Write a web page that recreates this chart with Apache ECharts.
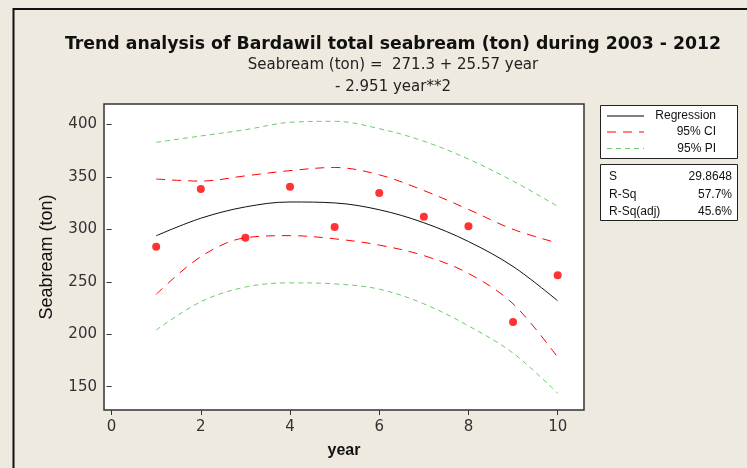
<!DOCTYPE html>
<html>
<head>
<meta charset="utf-8">
<script src="https://cdn.jsdelivr.net/npm/echarts@6/dist/echarts.min.js"></script>
<style>
html,body{margin:0;padding:0;background:#EEEAE0;}
#chart{width:747px;height:468px;}
</style>
</head>
<body>
<div id="chart"></div>
<script>
// ---- data ----
const years = [1, 2, 3, 4, 5, 6, 7, 8, 9, 10];
const seabream = [283.5, 338.5, 292, 340.7, 302.2, 334.6, 312, 303, 211.7, 256.2];
const regression = [293.9, 310.6, 321.4, 326.1, 325.2, 318.7, 306.3, 288.4, 264.6, 231.9];
const ciUpper = [348, 346, 351, 356, 359, 352, 337, 319, 300, 287];
const ciLower = [238, 274, 292, 294, 291, 285, 275, 258, 229, 178];
const piUpper = [383, 389, 395, 402, 403, 396, 384, 367, 346, 322];
const piLower = [204, 231, 245, 249, 248, 243, 229, 208, 182, 143.7];
const xTicks = [0, 2, 4, 6, 8, 10];
const yTicks = [150, 200, 250, 300, 350, 400];
const xRange = [-0.17, 10.59];
const yRange = [127.8, 419.5];
const legendNames = ['Regression', '95% CI', '95% PI'];
const statNames = ['S', 'R-Sq', 'R-Sq(adj)'];
const statValues = ['29.8648', '57.7%', '45.6%'];
const titleText = 'Trend analysis of Bardawil total seabream (ton) during 2003 - 2012';
const subText = 'Seabream (ton) =  271.3 + 25.57 year\n- 2.951 year**2';

const pair = arr => years.map((x, i) => [x, arr[i]]);

const chart = echarts.init(document.getElementById('chart'), null, {renderer: 'canvas'});

const FONT = '"Liberation Sans", Arial, sans-serif';
const WIDE = '"DejaVu Sans", sans-serif';
const RED = '#FF0000';
const GREEN = '#6CCB6C';

const lineStyle = (color, type, width) => ({color: color, type: type, width: width});

const legendRows = [
  {y: 116, color: '#000', dash: null},
  {y: 132, color: RED, dash: [9, 7]},
  {y: 148.5, color: GREEN, dash: [5, 4]}
];

const graphics = [
  {type: 'rect', z: -10, shape: {x: 13.5, y: 9, width: 800, height: 500},
   style: {fill: '#EEEAE0', stroke: '#111', lineWidth: 2}},
  {type: 'rect', z: -5, shape: {x: 104, y: 104, width: 480, height: 306},
   style: {fill: '#FFFFFF', stroke: '#333', lineWidth: 1.5}},
  {type: 'rect', z: 1, shape: {x: 600.5, y: 105.5, width: 137, height: 53},
   style: {fill: '#FFFFFF', stroke: '#222', lineWidth: 1}},
  {type: 'rect', z: 1, shape: {x: 600.5, y: 164.5, width: 137, height: 56},
   style: {fill: '#FFFFFF', stroke: '#222', lineWidth: 1}}
];
legendRows.forEach((r, i) => {
  graphics.push({type: 'line', z: 2, shape: {x1: 607, y1: r.y, x2: 644, y2: r.y},
    style: {stroke: r.color, lineWidth: 1, lineDash: r.dash}});
  graphics.push({type: 'text', z: 2, x: 716, y: r.y,
    style: {text: legendNames[i], font: '12px ' + FONT, fill: '#111', align: 'right', verticalAlign: 'middle'}});
});
[176.5, 194.5, 211.5].forEach((y, i) => {
  graphics.push({type: 'text', z: 2, x: 609, y: y,
    style: {text: statNames[i], font: '12px ' + FONT, fill: '#111', align: 'left', verticalAlign: 'middle'}});
  graphics.push({type: 'text', z: 2, x: 732, y: y,
    style: {text: statValues[i], font: '12px ' + FONT, fill: '#111', align: 'right', verticalAlign: 'middle'}});
});

const option = {
  backgroundColor: '#EEEAE0',
  animation: false,
  title: [
    {text: titleText, left: 388, top: 31, textAlign: 'center',
     textStyle: {fontFamily: WIDE, fontWeight: 'bold', fontSize: 17.3, color: '#111'}},
    {text: subText, left: 388, top: 49, textAlign: 'center',
     textStyle: {fontFamily: WIDE, fontWeight: 'normal', fontSize: 15, color: '#222', lineHeight: 22}}
  ],
  graphic: graphics,
  grid: {left: 104, top: 104, width: 480, height: 306, containLabel: false},
  xAxis: {
    type: 'value', min: xRange[0], max: xRange[1],
    name: 'year', nameLocation: 'middle', nameGap: 33,
    nameTextStyle: {fontFamily: FONT, fontWeight: 'bold', fontSize: 16, color: '#111'},
    axisLine: {show: false},
    axisTick: {show: true, inside: false, length: 5, lineStyle: {color: '#333'}, customValues: xTicks},
    axisLabel: {customValues: xTicks, fontFamily: WIDE, fontSize: 15, color: '#333', margin: 10},
    splitLine: {show: false}
  },
  yAxis: {
    type: 'value', min: yRange[0], max: yRange[1],
    name: 'Seabream (ton)', nameLocation: 'middle', nameGap: 48, nameRotate: 90,
    nameTextStyle: {fontFamily: FONT, fontSize: 18, color: '#111'},
    axisLine: {show: false},
    axisTick: {show: true, inside: false, length: 5, lineStyle: {color: '#333'}, customValues: yTicks},
    axisLabel: {customValues: yTicks, fontFamily: WIDE, fontSize: 15, color: '#333', margin: 7},
    splitLine: {show: false}
  },
  series: [
    {name: 'PI upper', type: 'line', data: pair(piUpper), smooth: 0.35, clip: false, symbol: 'none',
     lineStyle: lineStyle(GREEN, [5, 4], 1)},
    {name: 'PI lower', type: 'line', data: pair(piLower), smooth: 0.35, clip: false, symbol: 'none',
     lineStyle: lineStyle(GREEN, [5, 4], 1)},
    {name: 'CI upper', type: 'line', data: pair(ciUpper), smooth: 0.35, clip: false, symbol: 'none',
     lineStyle: lineStyle(RED, [9, 7], 1)},
    {name: 'CI lower', type: 'line', data: pair(ciLower), smooth: 0.35, clip: false, symbol: 'none',
     lineStyle: lineStyle(RED, [9, 7], 1)},
    {name: 'Regression', type: 'line', data: pair(regression), smooth: 0.35, clip: false, symbol: 'none',
     lineStyle: lineStyle('#111', 'solid', 1)},
    {name: 'Seabream', type: 'scatter', data: pair(seabream), clip: false, symbol: 'circle', symbolSize: 8,
     itemStyle: {color: RED}, z: 5}
  ]
};
chart.setOption(option);
</script>
</body>
</html>
